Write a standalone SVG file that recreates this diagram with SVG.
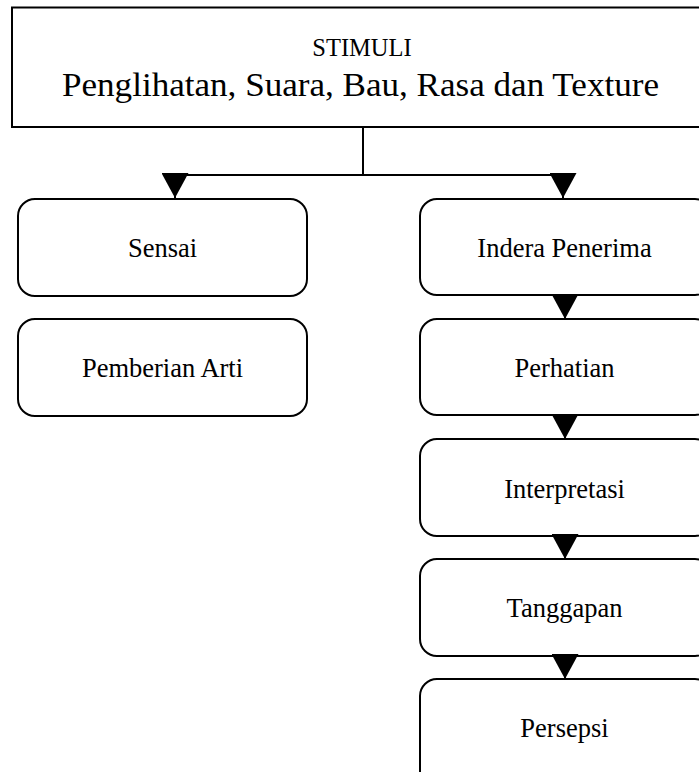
<svg xmlns="http://www.w3.org/2000/svg" width="699" height="772" viewBox="0 0 699 772">
<style>
.box{fill:#fff;stroke:#000;stroke-width:2}
.t{font-family:"Liberation Serif","Times New Roman",serif;font-size:26.5px;fill:#000;text-anchor:middle}
.conn{fill:none;stroke:#000;stroke-width:2}
</style>
<defs>
<marker id="arr" markerUnits="userSpaceOnUse" markerWidth="26" markerHeight="27" viewBox="0 0 25 27" refX="25" refY="13.5" orient="auto">
<polygon points="0,0 25,13.5 0,27" fill="#000"/>
</marker>
</defs>
<rect width="699" height="772" fill="#fff"/>
<g id="stimuli">
<rect class="box" x="12" y="7.5" width="700" height="119.5"/>
<text class="t" x="362" y="56" style="font-size:24.5px">STIMULI</text>
<text class="t" x="360.5" y="96" style="font-size:33px" textLength="597" lengthAdjust="spacingAndGlyphs">Penglihatan, Suara, Bau, Rasa dan Texture</text>
</g>
<g id="sensai">
<rect class="box" x="18" y="199" width="289" height="97" rx="17"/>
<text class="t" x="162.5" y="257">Sensai</text>
</g>
<g id="pemberian-arti">
<rect class="box" x="18" y="319" width="289" height="97" rx="17"/>
<text class="t" x="162.5" y="377">Pemberian Arti</text>
</g>
<g id="indera-penerima">
<rect class="box" x="420" y="199" width="292" height="96" rx="17"/>
<text class="t" x="564.5" y="257">Indera Penerima</text>
</g>
<g id="perhatian">
<rect class="box" x="420" y="319" width="292" height="96" rx="17"/>
<text class="t" x="564.5" y="377">Perhatian</text>
</g>
<g id="interpretasi">
<rect class="box" x="420" y="439" width="292" height="97" rx="17"/>
<text class="t" x="564.5" y="498">Interpretasi</text>
</g>
<g id="tanggapan">
<rect class="box" x="420" y="559" width="292" height="97" rx="17"/>
<text class="t" x="564.5" y="617">Tanggapan</text>
</g>
<g id="persepsi">
<rect class="box" x="420" y="679" width="292" height="120" rx="17"/>
<text class="t" x="564.5" y="737">Persepsi</text>
</g>
<g id="connectors">
<path class="conn" d="M363,127 V175 H175 V198" marker-end="url(#arr)"/>
<path class="conn" d="M363,175 H563 V198" marker-end="url(#arr)"/>
<path class="conn" d="M565,295 V319" marker-end="url(#arr)"/>
<path class="conn" d="M565,415 V439" marker-end="url(#arr)"/>
<path class="conn" d="M565,536 V559" marker-end="url(#arr)"/>
<path class="conn" d="M565,656 V679" marker-end="url(#arr)"/>
</g>
</svg>
